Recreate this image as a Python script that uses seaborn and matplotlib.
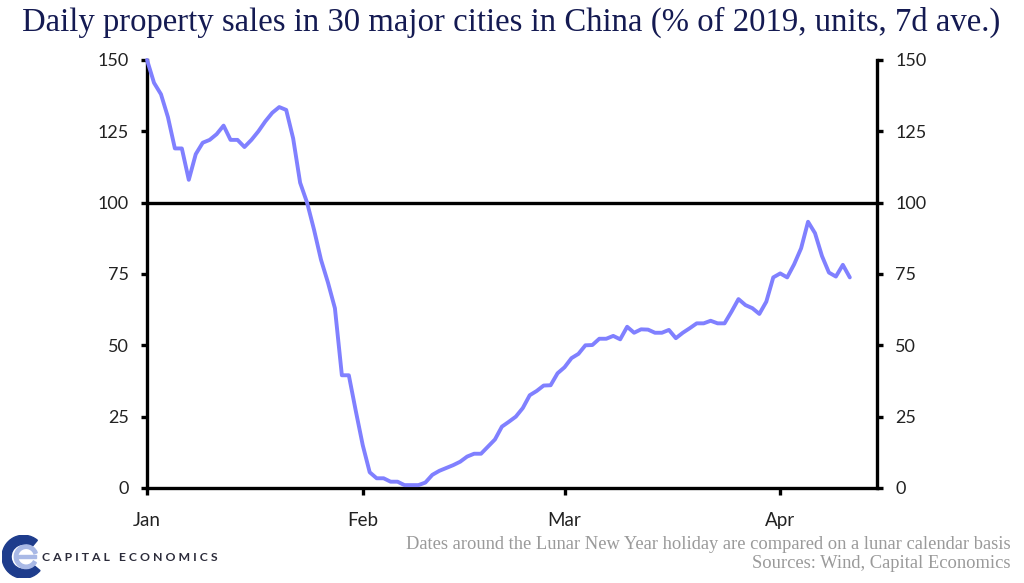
#!/usr/bin/env python3
"""Daily property sales in 30 major cities in China (% of 2019, 7d ave.)."""

import matplotlib
matplotlib.use("Agg")
import matplotlib.pyplot as plt
from matplotlib.patches import Wedge, Rectangle
import pandas as pd
import seaborn as sns

# Data: one value per day from 1 Jan 2020
START_DATE = "2020-01-01"
SALES_PCT = [
    150, 142, 138, 130, 119, 119, 108, 117, 121, 122,
    124, 127, 122, 122, 119.5, 122, 125, 128.5, 131.5, 133.5,
    132.5, 122.5, 107, 100, 90.5, 80, 72, 63, 39.5, 39.5,
    27, 15, 5.5, 3.4, 3.4, 2.2, 2.2, 1, 1, 1,
    1.9, 4.6, 6, 7, 8, 9.2, 11, 12, 12, 14.5,
    17, 21.5, 23.2, 25, 28, 32.5, 34, 35.9, 36, 40.2,
    42.3, 45.5, 47, 50, 50.1, 52.3, 52.3, 53.3, 52.1, 56.5,
    54.4, 55.6, 55.5, 54.4, 54.4, 55.4, 52.5, 54.4, 56, 57.7,
    57.7, 58.6, 57.7, 57.7, 61.8, 66.2, 64.1, 63, 61, 65.3,
    73.8, 75.2, 73.8, 78.4, 84, 93.3, 89.3, 81.3, 75.5, 74.1,
    78.2, 73.8,
]
Y_TICKS = [0, 25, 50, 75, 100, 125, 150]
X_TICK_DATES = ["2020-01-01", "2020-02-01", "2020-03-01", "2020-04-01"]
X_TICK_LABELS = ["Jan", "Feb", "Mar", "Apr"]

TITLE = "Daily property sales in 30 major cities in China (% of 2019, units, 7d ave.)"
NOTE = "Dates around the Lunar New Year holiday are compared on a lunar calendar basis"
SOURCE = "Sources: Wind, Capital Economics"

LINE_COLOR = "#8080ff"
TITLE_COLOR = "#141a52"
NOTE_COLOR = "#9a9a9a"
SERIF = ["Liberation Serif", "DejaVu Serif"]


def draw_logo(fig):
    lax = fig.add_axes([0.002, 0.008, 0.042, 0.074])
    lax.set_xlim(-1, 1)
    lax.set_ylim(-1, 1)
    lax.set_aspect("equal")
    lax.axis("off")
    lax.add_patch(Wedge((0, 0), 1.0, 50, 320, width=0.42, color="#1e3c8c"))
    lax.add_patch(Wedge((0.12, 0), 0.55, 20, 330, width=0.16, color="#a9b9e6"))
    lax.add_patch(Rectangle((-0.35, -0.05), 0.95, 0.14, color="#a9b9e6"))


def main():
    sns.set_style("ticks")
    plt.rcParams["font.family"] = ["Lato", "DejaVu Sans"]

    dates = pd.date_range(START_DATE, periods=len(SALES_PCT), freq="D")
    df = pd.DataFrame({"date": dates, "sales": SALES_PCT})

    fig = plt.figure(figsize=(10.24, 5.83), dpi=100)
    ax = fig.add_axes([0.1436, 0.1630, 0.7129, 0.7341])

    sns.lineplot(data=df, x="date", y="sales", ax=ax, color=LINE_COLOR,
                 linewidth=2.8, clip_on=False, zorder=3)
    ax.axhline(100, color="black", linewidth=2.4, zorder=2)

    ax.set_ylim(0, 150)
    ax.set_xlim(pd.Timestamp("2020-01-01"), pd.Timestamp("2020-04-14 22:00"))
    ax.set_yticks(Y_TICKS)
    ax.set_xticks([pd.Timestamp(d) for d in X_TICK_DATES])
    ax.set_xticklabels(X_TICK_LABELS)
    ax.set_xlabel("")
    ax.set_ylabel("")

    for side in ["left", "right", "bottom"]:
        ax.spines[side].set_visible(True)
        ax.spines[side].set_linewidth(2.4)
        ax.spines[side].set_color("black")
    ax.spines["top"].set_visible(False)

    ax.tick_params(axis="y", which="both", left=True, right=True,
                   labelleft=True, labelright=True, direction="out",
                   length=4, width=2.4, labelsize=13, pad=9, colors="black")
    ax.tick_params(axis="x", direction="out", length=5, width=2.4,
                   labelsize=13.5, pad=12, colors="black")
    for lbl in ax.get_yticklabels() + ax.get_xticklabels():
        lbl.set_color("#222222")

    fig.text(0.021, 0.947, TITLE, fontsize=23.6, color=TITLE_COLOR,
             family=SERIF, va="baseline")
    fig.text(0.987, 0.058, NOTE, fontsize=13.3, color=NOTE_COLOR, ha="right",
             family=SERIF, va="baseline")
    fig.text(0.987, 0.025, SOURCE, fontsize=13.3, color=NOTE_COLOR, ha="right",
             family=SERIF, va="baseline")
    fig.text(0.041, 0.043, "C A P I T A L   E C O N O M I C S", fontsize=8.8,
             color="#2b2b3a", fontweight="bold", va="center")

    draw_logo(fig)

    fig.savefig("out.png", dpi=100, facecolor="white")
    plt.close(fig)


if __name__ == "__main__":
    main()
